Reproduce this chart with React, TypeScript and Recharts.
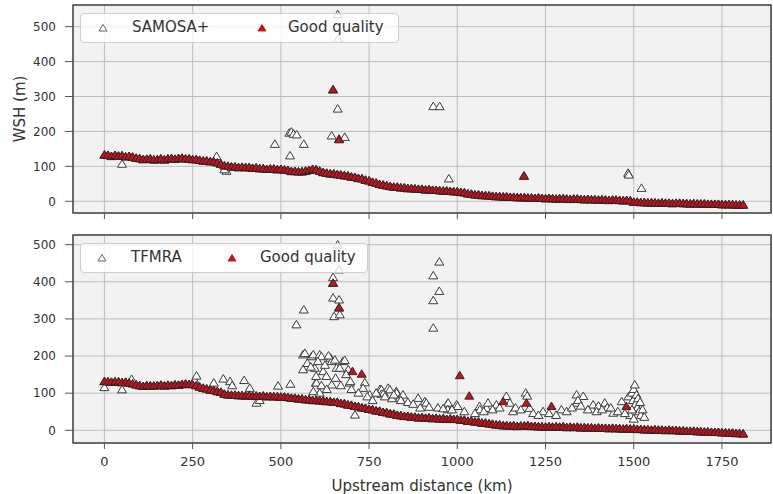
import React from 'react';
import { ScatterChart, Scatter, XAxis, YAxis, CartesianGrid, ReferenceArea } from 'recharts';

// distance along the river (km) for the regular profile samples
const profileKm = [
  0, 10, 20, 30, 40, 50, 60, 70, 80, 90, 100, 110, 120, 130, 140, 150, 160, 170, 180, 190,
  200, 210, 220, 230, 240, 250, 260, 270, 280, 290, 300, 310, 320, 330, 340, 350, 360, 370, 380, 390,
  400, 410, 420, 430, 440, 450, 460, 470, 480, 490, 500, 510, 520, 530, 540, 550, 560, 570, 580, 590,
  600, 610, 620, 630, 640, 650, 660, 670, 680, 690, 700, 710, 720, 730, 740, 750, 760, 770, 780, 790,
  800, 810, 820, 830, 840, 850, 860, 870, 880, 890, 900, 910, 920, 930, 940, 950, 960, 970, 980, 990,
  1000, 1010, 1020, 1030, 1040, 1050, 1060, 1070, 1080, 1090, 1100, 1110, 1120, 1130, 1140, 1150, 1160, 1170, 1180, 1190,
  1200, 1210, 1220, 1230, 1240, 1250, 1260, 1270, 1280, 1290, 1300, 1310, 1320, 1330, 1340, 1350, 1360, 1370, 1380, 1390,
  1400, 1410, 1420, 1430, 1440, 1450, 1460, 1470, 1480, 1490, 1500, 1510, 1520, 1530, 1540, 1550, 1560, 1570, 1580, 1590,
  1600, 1610, 1620, 1630, 1640, 1650, 1660, 1670, 1680, 1690, 1700, 1710, 1720, 1730, 1740, 1750, 1760, 1770, 1780, 1790,
  1800, 1810,
];

const samosaProfile = [
  132, 131, 128, 131, 129, 130, 127, 128, 126, 123, 122, 119, 120, 121, 118, 119, 121, 118, 121, 122,
  120, 122, 123, 121, 121, 119, 119, 117, 115, 115, 113, 113, 110, 106, 101, 100, 98, 98, 96, 97,
  96, 96, 94, 95, 93, 93, 91, 92, 92, 90, 91, 89, 88, 85, 85, 84, 84, 86, 88, 91,
  90, 86, 82, 80, 78, 78, 76, 75, 73, 72, 69, 68, 65, 64, 60, 58, 54, 52, 48, 46,
  44, 42, 40, 40, 38, 38, 36, 36, 35, 34, 34, 32, 33, 31, 31, 30, 29, 29, 28, 27,
  27, 25, 24, 21, 20, 18, 18, 16, 16, 15, 14, 13, 13, 12, 12, 11, 11, 10, 10, 10,
  9, 9, 8, 9, 8, 7, 8, 7, 6, 7, 7, 6, 5, 6, 6, 5, 4, 5, 4, 4,
  3, 4, 3, 2, 3, 3, 2, 1, 2, 1, -3, -3, -4, -4, -5, -5, -5, -6, -5, -6,
  -6, -7, -6, -6, -7, -7, -8, -7, -8, -8, -8, -9, -9, -9, -9, -10, -10, -10, -10, -11,
  -11, -11,
];

const tfmraProfile = [
  131, 130, 129, 130, 130, 128, 129, 127, 125, 122, 120, 118, 120, 119, 119, 120, 121, 119, 121, 120,
  122, 121, 123, 124, 123, 123, 120, 116, 113, 111, 108, 107, 104, 102, 97, 95, 94, 94, 93, 93,
  92, 93, 91, 92, 91, 92, 90, 91, 90, 90, 89, 89, 88, 86, 86, 84, 84, 82, 82, 80,
  80, 79, 79, 77, 77, 75, 75, 72, 71, 68, 67, 64, 63, 60, 59, 56, 55, 52, 51, 48,
  47, 44, 43, 40, 39, 37, 37, 35, 35, 33, 34, 32, 33, 31, 32, 30, 31, 29, 30, 29,
  29, 27, 27, 24, 24, 22, 22, 19, 19, 17, 16, 14, 14, 12, 12, 11, 12, 10, 11, 11,
  12, 10, 10, 9, 9, 8, 9, 8, 9, 8, 9, 7, 8, 7, 8, 6, 7, 6, 6, 5,
  6, 5, 5, 4, 5, 4, 4, 3, 4, 3, 3, 2, 2, 1, 1, 0, 1, 0, 0, -1,
  0, -1, -1, -2, -2, -3, -3, -3, -4, -4, -5, -5, -6, -6, -6, -7, -7, -8, -8, -9,
  -9, -10,
];

// scattered retrievals off the main profile: [km, WSH]
const samosaOutliers: [number, number][] = [
  [50, 106], [318, 128], [346, 86], [340, 90], [483, 163], [526, 130], [524, 195], [530, 198],
  [536, 192], [545, 190], [565, 163], [644, 187], [648, 319], [661, 534], [662, 464], [661, 264],
  [665, 178], [681, 183], [932, 271], [950, 271], [976, 64], [1189, 72], [1484, 80], [1486, 75],
  [1522, 37],
];
const samosaGoodExtra: [number, number][] = [[648, 319], [665, 176], [1189, 72]];

const tfmraOutliers: [number, number][] = [
  [0, 115], [50, 109], [77, 137], [255, 135], [261, 146], [310, 127], [337, 138], [356, 131],
  [362, 120], [396, 134], [412, 113], [431, 73], [440, 80], [492, 119], [527, 124], [544, 284],
  [565, 324], [563, 203], [568, 207], [587, 198], [592, 203], [610, 203], [615, 198], [563, 163],
  [596, 167], [620, 158], [599, 127], [601, 127], [610, 100], [592, 104], [629, 145], [641, 194],
  [644, 185], [644, 122], [648, 396], [648, 411], [648, 356], [651, 306], [661, 499], [665, 432],
  [665, 329], [665, 351], [667, 311], [653, 189], [658, 167], [667, 167], [676, 185], [681, 188],
  [691, 163], [695, 127], [697, 131], [710, 41], [738, 128], [733, 113], [752, 95], [781, 110],
  [785, 109], [785, 97], [792, 100], [804, 113], [809, 109], [827, 104], [828, 100], [837, 86],
  [846, 95], [889, 86], [908, 77], [912, 73], [932, 275], [932, 349], [949, 374], [932, 416],
  [949, 453], [970, 68], [974, 73], [973, 55], [998, 68], [1001, 64], [1063, 64], [1064, 55],
  [1083, 59], [1087, 73], [1111, 68], [1139, 91], [1149, 73], [1158, 50], [1194, 100], [1198, 92],
  [1205, 59], [1243, 50], [1295, 55], [1338, 95], [1357, 91], [1338, 73], [1342, 80], [1385, 68],
  [1400, 65], [1418, 73], [1425, 60], [1442, 46], [1466, 77], [1485, 90], [1495, 100], [1500, 110],
  [1503, 122], [1498, 80], [1505, 70], [1510, 60], [1515, 50], [1520, 40], [1490, 40], [1508, 95],
  [1525, 55], [1530, 35], [1500, 30],
  [575, 180], [585, 170], [605, 185], [625, 175], [635, 200], [600, 145], [615, 120], [630, 110],
  [655, 140], [670, 120], [685, 150], [700, 110], [720, 100], [745, 90], [760, 80], [770, 100],
  [795, 90], [815, 85], [820, 95], [840, 80], [860, 75], [875, 70], [895, 60], [920, 62],
  [945, 60], [960, 58], [985, 55], [1020, 50], [1050, 45], [1075, 50], [1100, 55], [1120, 60],
  [1165, 60], [1180, 55], [1215, 45], [1230, 40], [1260, 45], [1280, 40], [1310, 50], [1325, 60],
  [1350, 65], [1370, 55], [1395, 50], [1410, 55], [1435, 60], [1455, 50], [1475, 45], [1512, 85],
  [1518, 75], [1495, 55],
];
const tfmraGoodExtra: [number, number][] = [
  [648, 396], [665, 330], [703, 158], [729, 151], [1007, 147], [1034, 92], [1130, 77], [1196, 73],
  [1267, 64], [1479, 64],
];

const xTicks = [0, 250, 500, 750, 1000, 1250, 1500, 1750];
const yTicks = [0, 100, 200, 300, 400, 500];

const toPoints = (km: number[], wsh: number[]) => km.map((x, i) => ({ x, y: wsh[i] }));
const pairs = (list: [number, number][]) => list.map(([x, y]) => ({ x, y }));

const samosaAll = [...toPoints(profileKm, samosaProfile), ...pairs(samosaOutliers)];
const samosaGood = [...toPoints(profileKm, samosaProfile), ...pairs(samosaGoodExtra)];
const tfmraAll = [...toPoints(profileKm, tfmraProfile), ...pairs(tfmraOutliers)];
const tfmraGood = [...toPoints(profileKm, tfmraProfile), ...pairs(tfmraGoodExtra)];

const RED = '#c4121c';
const TEXT = '#333';
const X_DOMAIN: [number, number] = [-89, 1889];

const triPoints = (cx: number, cy: number) =>
  `${cx},${cy - 4.5} ${cx - 4.5},${cy + 3} ${cx + 4.5},${cy + 3}`;

const HollowTri = (props: any) => {
  const { cx, cy } = props;
  if (cx == null || cy == null) return null;
  return <polygon points={triPoints(cx, cy)} fill="#fff" stroke="#3a3a3a" strokeWidth={1} />;
};

const RedTri = (props: any) => {
  const { cx, cy } = props;
  if (cx == null || cy == null) return null;
  return <polygon points={triPoints(cx, cy)} fill={RED} stroke="#222" strokeWidth={0.9} />;
};

const YLabel = () => (
  <text
    x={20}
    y={109}
    transform="rotate(-90 20 109)"
    textAnchor="middle"
    dominantBaseline="central"
    fill={TEXT}
    fontSize={15}
  >
    WSH (m)
  </text>
);

function LegendBox({ name, width, markerX, nameX, goodMarkerX, goodX }: any) {
  const tri = (fill: string, stroke: string) => (
    <svg width={10} height={10} style={{ position: 'absolute', top: 9 }}>
      <polygon points="5,1.5 1,8 9,8" fill={fill} stroke={stroke} strokeWidth={0.9} />
    </svg>
  );
  return (
    <div
      style={{
        position: 'absolute',
        left: 80,
        top: 13,
        width,
        height: 28,
        background: 'rgba(255,255,255,0.8)',
        border: '1px solid #cfcfcf',
        borderRadius: 4,
        fontSize: 15,
        color: TEXT,
      }}
    >
      <div style={{ position: 'absolute', left: markerX - 5 }}>{tri('#fff', '#555')}</div>
      <span style={{ position: 'absolute', left: nameX, top: 4 }}>{name}</span>
      <div style={{ position: 'absolute', left: goodMarkerX - 5 }}>{tri(RED, RED)}</div>
      <span style={{ position: 'absolute', left: goodX, top: 4 }}>Good quality</span>
    </div>
  );
}

function Panel({ top, height, xAxisHeight, allData, goodData, yDomain, showXLabels, legend, yLabel }: any) {
  return (
    <div style={{ position: 'absolute', left: 0, top, width: 773, height }}>
      <ScatterChart width={773} height={height} margin={{ top: 5, right: 2, bottom: 0, left: 0 }}>
        <CartesianGrid fill="#f2f2f2" stroke="#bdbdbd" strokeWidth={1} />
        <XAxis
          type="number"
          dataKey="x"
          domain={X_DOMAIN}
          ticks={xTicks}
          allowDataOverflow
          height={xAxisHeight}
          axisLine={false}
          tickSize={6}
          tickMargin={8}
          tickLine={{ stroke: '#555' }}
          tick={{ fill: TEXT, fontSize: 13 }}
          tickFormatter={(v: number) => (showXLabels ? String(v) : '')}
          label={
            showXLabels
              ? { value: 'Upstream distance (km)', position: 'insideBottom', offset: 3, fill: TEXT, fontSize: 15 }
              : undefined
          }
        />
        <YAxis
          type="number"
          dataKey="y"
          domain={yDomain}
          ticks={yTicks}
          allowDataOverflow
          width={73}
          axisLine={false}
          tickSize={8}
          tickMargin={9}
          tickLine={{ stroke: '#555' }}
          tick={{ fill: TEXT, fontSize: 12 }}
          label={yLabel ? <YLabel /> : undefined}
        />
        <Scatter data={allData} shape={HollowTri} isAnimationActive={false} />
        <Scatter data={goodData} shape={RedTri} isAnimationActive={false} />
        <ReferenceArea
          x1={X_DOMAIN[0]}
          x2={X_DOMAIN[1]}
          y1={yDomain[0]}
          y2={yDomain[1]}
          fill="none"
          stroke="#444"
          strokeWidth={1.5}
          ifOverflow="visible"
        />
      </ScatterChart>
      {legend}
    </div>
  );
}

export default function App() {
  return (
    <div
      style={{
        position: 'absolute',
        left: 0,
        top: 0,
        width: 773,
        height: 494,
        background: '#fff',
        fontFamily: '"DejaVu Sans", sans-serif',
      }}
    >
      <Panel
        top={0}
        height={225}
        xAxisHeight={12}
        allData={samosaAll}
        goodData={samosaGood}
        yDomain={[-33.5, 562]}
        showXLabels={false}
        yLabel
        legend={<LegendBox name="SAMOSA+" width={317} markerX={22} nameX={51} goodMarkerX={181} goodX={207} />}
      />
      <Panel
        top={230}
        height={264}
        xAxisHeight={51}
        allData={tfmraAll}
        goodData={tfmraGood}
        yDomain={[-34.2, 526]}
        showXLabels
        legend={<LegendBox name="TFMRA" width={286} markerX={21} nameX={50} goodMarkerX={151} goodX={179} />}
      />
    </div>
  );
}
